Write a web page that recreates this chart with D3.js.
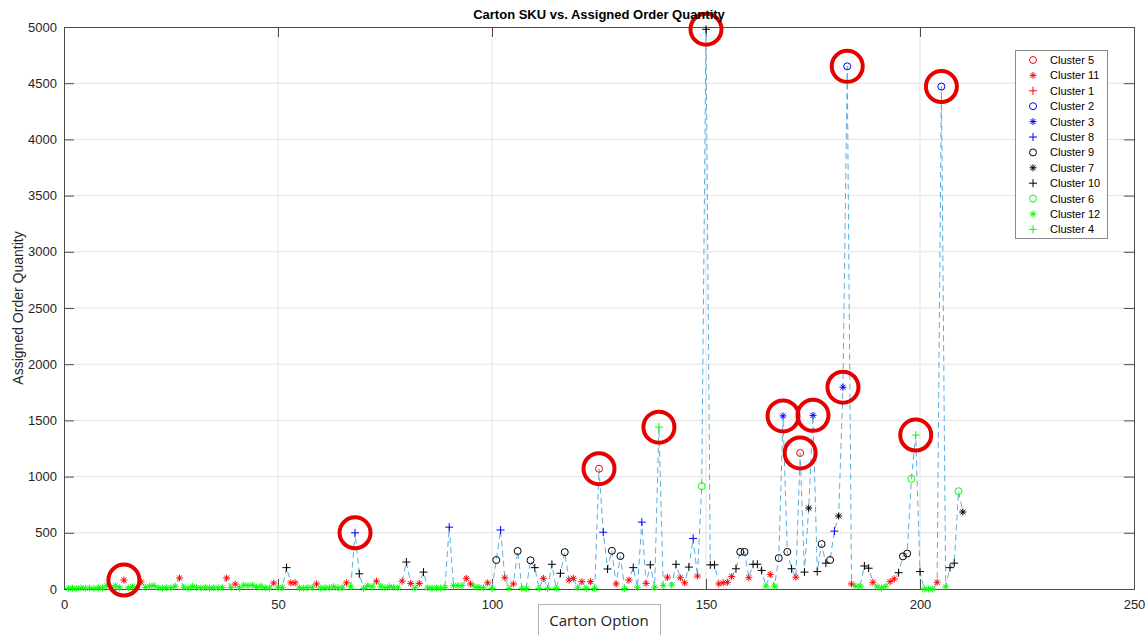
<!DOCTYPE html>
<html><head><meta charset="utf-8">
<script src="https://cdn.jsdelivr.net/npm/d3@7"></script>
<style>body{margin:0;background:#fff;font-family:"Liberation Sans",Arial,sans-serif}</style>
</head><body><svg id="c" width="1146" height="635"></svg>
<script>
const values = [5,8,5,10,6,8,5,12,8,30, 15,28,10,80,10,20,8,62,15,25,
30,10,8,12,10,25,98,15,8,25, 12,10,15,8,12,10,15,98,12,44,
10,35,30,35,15,25,10,8,53,10, 15,190,55,55,10,8,12,15,45,8,
12,10,20,10,12,55,20,500,135,5, 30,20,70,25,10,20,15,10,70,240,
50,10,50,150,10,8,10,8,15,550, 30,30,30,95,45,20,15,10,55,5,
258,525,100,5,45,338,5,5,255,190, 5,95,5,220,5,140,328,80,95,10,
65,5,65,5,1070,505,178,340,45,293, 5,80,190,15,595,50,215,15,1440,30,
105,35,220,100,55,195,450,115,915,4980, 215,215,45,55,60,110,180,330,330,100,
220,220,165,25,130,25,275,1540,330,180, 105,1210,150,720,1545,155,400,230,258,515,
650,1795,4650,45,25,25,205,185,60,20, 10,25,65,90,145,290,315,980,1370,155,
0,0,0,60,4470,20,190,230,870,685];
const clusters = [12,12,12,12,12,12,12,12,12,12, 12,12,12,11,12,12,12,11,12,12,
12,12,12,12,12,12,11,12,12,12, 12,12,12,12,12,12,12,11,12,11,
12,12,12,12,12,12,12,12,11,12, 12,10,11,11,12,12,12,12,11,12,
12,12,12,12,12,11,12,8,10,12, 12,12,11,12,12,12,12,12,11,10,
11,12,11,10,12,12,12,12,12,8, 12,12,12,11,11,12,12,12,11,12,
9,8,11,12,11,9,12,12,9,10, 12,11,12,10,12,10,9,11,11,12,
11,12,11,12,5,8,10,9,11,9, 12,11,10,12,8,11,10,12,4,12,
11,12,10,11,11,10,8,11,6,10, 10,10,11,11,11,11,10,9,9,11,
10,10,10,12,11,12,9,3,9,10, 11,5,10,7,3,10,9,10,9,8,
7,3,2,11,12,12,10,10,11,12, 12,12,11,11,10,9,9,6,4,10,
12,12,12,11,2,12,10,10,6,7];
const highlighted = [14,68,125,139,150,168,172,175,182,183,199,205];
const legendOrder = [5,11,1,2,3,8,9,7,10,6,12,4];
const clusterStyle = {5:["#ff0000","o"],11:["#ff0000","*"],1:["#ff0000","+"],
 2:["#0000ff","o"],3:["#0000ff","*"],8:["#0000ff","+"],
 9:["#000000","o"],7:["#000000","*"],10:["#000000","+"],
 6:["#00ff00","o"],12:["#00ff00","*"],4:["#00ff00","+"]};
const xTicks = [0,50,100,150,200,250];
const yTicks = d3.range(0,5001,500);

const svg = d3.select("#c");
const L=64,R=1134,T=27,B=589;
const x = d3.scaleLinear().domain([0,250]).range([L,R]);
const y = d3.scaleLinear().domain([0,5000]).range([B,T]);
const data = values.map((v,i)=>({x:i+1,v:v,c:clusters[i]}));

// grid
svg.append("g").selectAll("line").data(xTicks.slice(1,-1)).join("line")
 .attr("x1",d=>x(d)).attr("x2",d=>x(d)).attr("y1",T).attr("y2",B)
 .attr("stroke","#e3e3e3").attr("stroke-width",1);
svg.append("g").selectAll("line").data(yTicks.slice(1,-1)).join("line")
 .attr("y1",d=>y(d)).attr("y2",d=>y(d)).attr("x1",L).attr("x2",R)
 .attr("stroke","#e3e3e3").attr("stroke-width",1);

// axes
const ax = d3.axisBottom(x).tickValues(xTicks).tickSize(-10).tickPadding(11).tickFormat(d3.format("d"));
svg.append("g").attr("transform",`translate(0,${B})`).call(ax);
const ay = d3.axisLeft(y).tickValues(yTicks).tickSize(-10).tickPadding(7).tickFormat(d3.format("d"));
svg.append("g").attr("transform",`translate(${L},0)`).call(ay);
svg.append("g").attr("transform",`translate(0,${T})`).call(d3.axisTop(x).tickValues(xTicks).tickSize(-10).tickFormat(""));
svg.append("g").attr("transform",`translate(${R},0)`).call(d3.axisRight(y).tickValues(yTicks).tickSize(-10).tickFormat(""));
svg.selectAll(".domain").attr("stroke","#4d4d4d");
svg.selectAll(".tick line").attr("stroke","#4d4d4d");
svg.selectAll(".tick text").attr("font-size","13px").attr("fill","#262626").attr("font-family","Liberation Sans, Arial, sans-serif");

// line
svg.append("path").datum(data)
 .attr("d",d3.line().x(d=>x(d.x)).y(d=>y(d.v)))
 .attr("fill","none").attr("stroke","#5aaee0").attr("stroke-width",1)
 .attr("stroke-dasharray","6,4");

function marker(g,type,color){
  if(type==="o"){
    g.append("circle").attr("r",3.5).attr("fill","none").attr("stroke",color).attr("stroke-width",1);
  } else if(type==="+"){
    g.append("path").attr("d","M-4,0H4M0,-4V4").attr("stroke",color).attr("stroke-width",1);
  } else {
    g.append("path").attr("d","M-3.5,0H3.5M0,-3.5V3.5M-2.5,-2.5L2.5,2.5M-2.5,2.5L2.5,-2.5").attr("stroke",color).attr("stroke-width",1);
  }
}
const pts = svg.append("g");
data.forEach(d=>{
  const s = clusterStyle[d.c];
  const g = pts.append("g").attr("transform",`translate(${x(d.x)},${y(d.v)})`);
  marker(g,s[1],s[0]);
});

// highlight circles
svg.append("g").selectAll("circle").data(highlighted.map(h=>data[h-1])).join("circle")
 .attr("cx",d=>x(d.x)).attr("cy",d=>y(d.v)).attr("r",15.5)
 .attr("fill","none").attr("stroke","#e60000").attr("stroke-width",4);

// title and labels
svg.append("text").attr("x",(L+R)/2).attr("y",19).attr("text-anchor","middle")
 .attr("font-size","13px").attr("font-weight","bold").attr("fill","#000").text("Carton SKU vs. Assigned Order Quantity");
svg.append("text").attr("transform",`translate(23,${(T+B)/2}) rotate(-90)`).attr("text-anchor","middle")
 .attr("font-size","14px").attr("fill","#262626").text("Assigned Order Quantity");
svg.append("rect").attr("x",538.5).attr("y",604.5).attr("width",122).attr("height",40)
 .attr("fill","#fff").attr("stroke","#b0b0b0");
svg.append("text").attr("x",599).attr("y",626).attr("text-anchor","middle")
 .attr("font-size","15px").attr("fill","#222").attr("font-family","Open Sans, sans-serif").text("Carton Option");

// legend
const lg = svg.append("g");
lg.append("rect").attr("x",1015.5).attr("y",50.5).attr("width",92).attr("height",188)
 .attr("fill","#fff").attr("stroke","#8c8c8c");
legendOrder.forEach((c,i)=>{
  const yy = 60 + i*15.4;
  const g = lg.append("g").attr("transform",`translate(1033,${yy})`);
  marker(g,clusterStyle[c][1],clusterStyle[c][0]);
  lg.append("text").attr("x",1050).attr("y",yy+4).attr("font-size","11px").attr("fill","#000").text("Cluster "+c);
});
</script></body></html>
